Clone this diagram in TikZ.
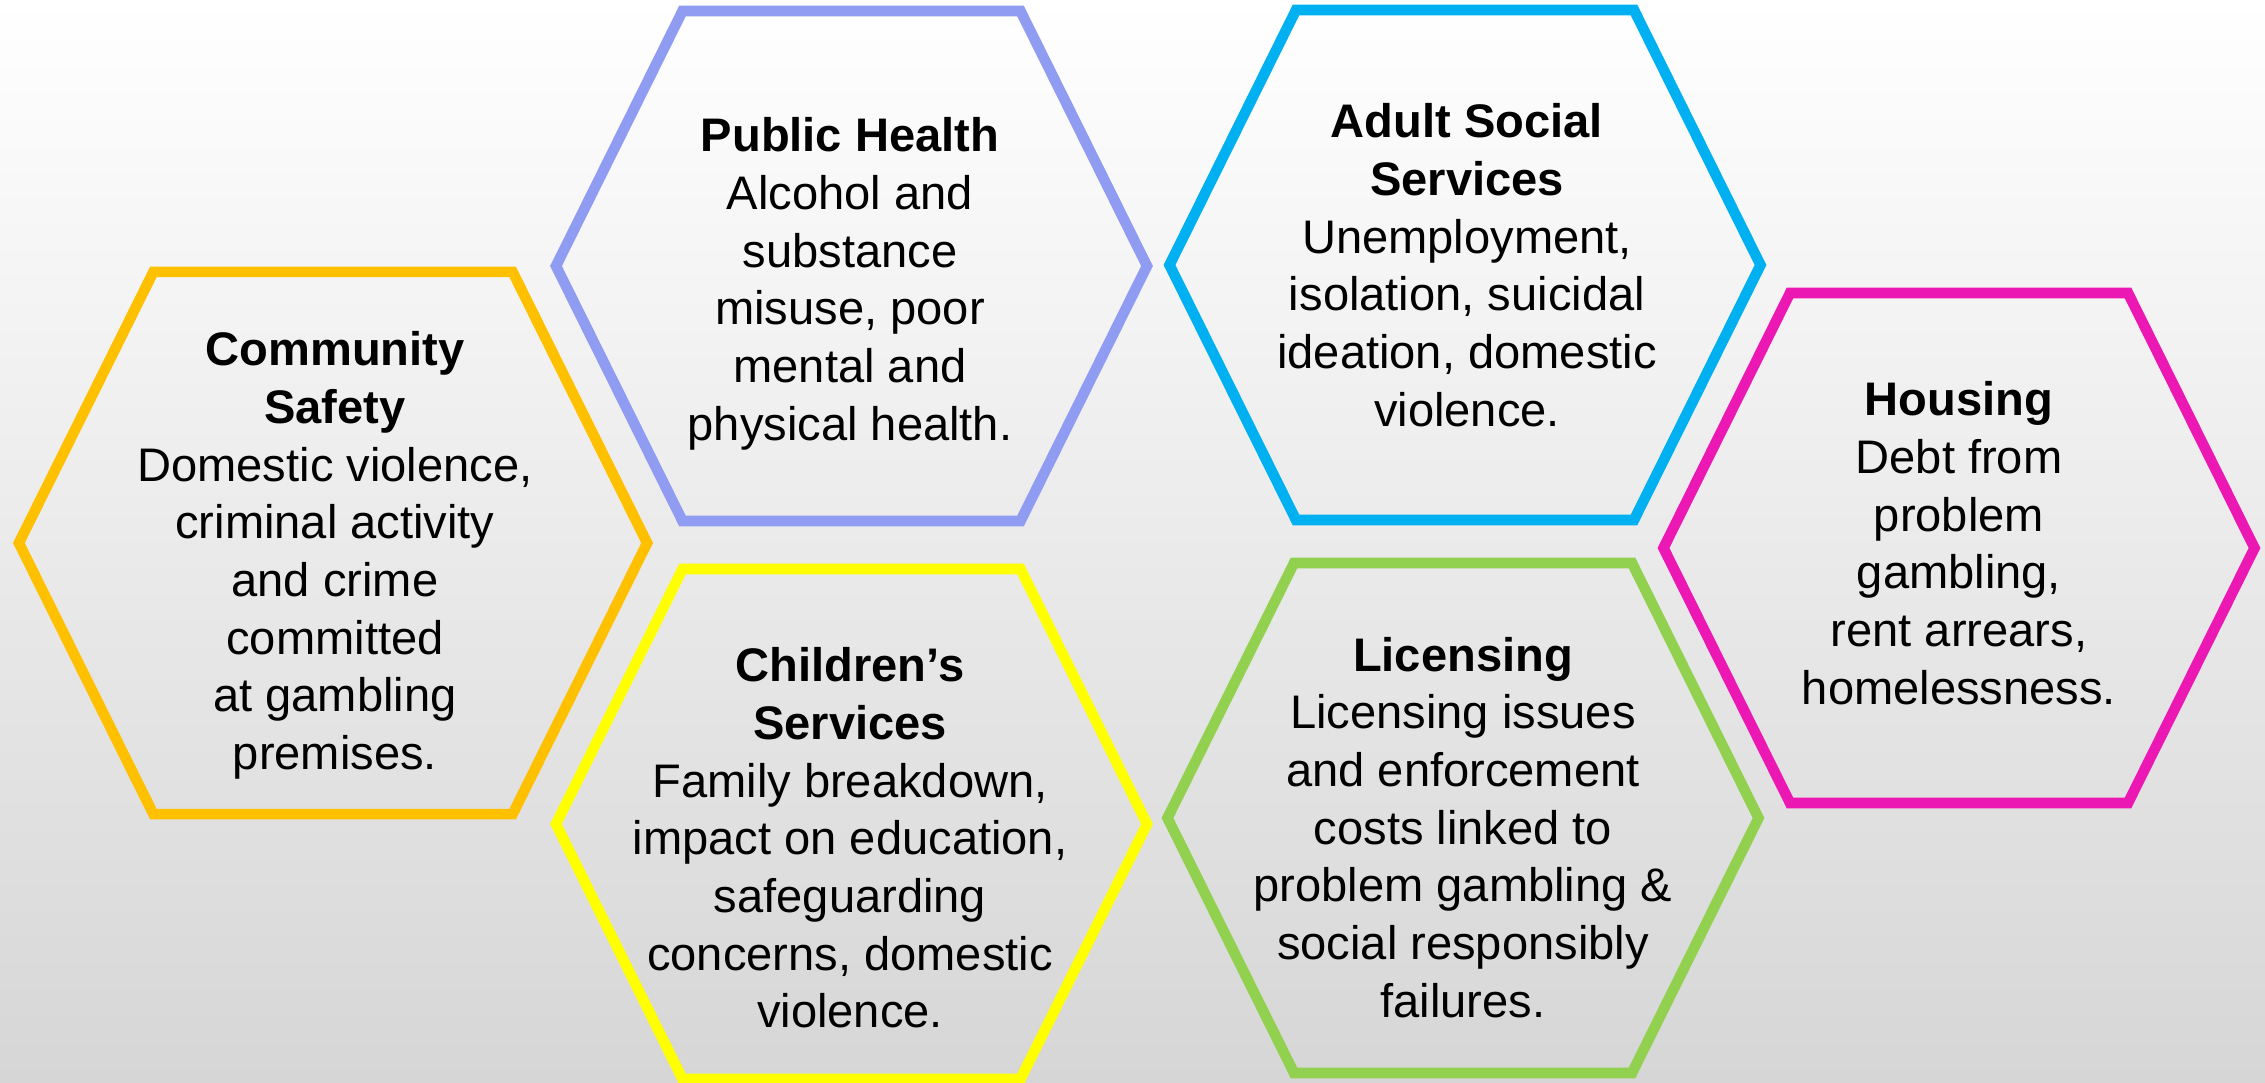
\documentclass[tikz,border=0pt]{standalone}
\usepackage{fontspec}
\setmainfont{Liberation Sans}
\usepackage{tikz}
\definecolor{cellorange}{HTML}{FFC000}
\definecolor{celllilac}{HTML}{8F9CF2}
\definecolor{cellyellow}{HTML}{FFFF00}
\definecolor{cellcyan}{HTML}{00B0F0}
\definecolor{cellgreen}{HTML}{92D050}
\definecolor{cellpink}{HTML}{EC18B4}
\definecolor{bgmid}{HTML}{F4F4F4}
\definecolor{bgbot}{HTML}{D6D6D6}
\tikzset{
    hexcell/.style={line width=3pt, line join=miter},
    celltext/.style={anchor=north, inner sep=0pt, align=center, font=\fontsize{13.4}{16.4}\selectfont},
    pics/hexa/.style={code={\draw[hexcell, draw=#1] (-2.955,0) -- (-1.69,2.55) -- (1.69,2.55) -- (2.955,0) -- (1.69,-2.55) -- (-1.69,-2.55) -- cycle;}}
}

\begin{document}
\begin{tikzpicture}
        \shade[top color=white, middle color=bgmid, bottom color=bgbot] (0,0) rectangle (22.65,-10.82);
        \useasboundingbox (0,0) rectangle (22.65,-10.82);

        % left cell, a bit larger
        \pic[scale=1.063] at (3.33,-5.43) {hexa=cellorange};
        \node[celltext] at (3.35,-3.31) (CommunitySafety) {\textbf{Community}\\\textbf{Safety}\\Domestic violence,\\criminal activity\\and crime\\committed\\at gambling\\premises.};

        % middle column
        \pic at (8.515,-2.66) {hexa=celllilac};
        \node[celltext] at (8.50,-1.17) (PublicHealth) {\textbf{Public Health}\\Alcohol and\\substance\\misuse, poor\\mental and\\physical health.};

        \pic at (8.515,-8.24) {hexa=cellyellow};
        \node[celltext] at (8.50,-6.47) (ChildrensServices) {\textbf{Children’s}\\\textbf{Services}\\Family breakdown,\\impact on education,\\safeguarding\\concerns, domestic\\violence.};

        % right column
        \pic at (14.65,-2.65) {hexa=cellcyan};
        \node[celltext] at (14.67,-1.03) (AdultSocial) {\textbf{Adult Social}\\\textbf{Services}\\Unemployment,\\isolation, suicidal\\ideation, domestic\\violence.};

        \pic at (14.63,-8.18) {hexa=cellgreen};
        \node[celltext] at (14.63,-6.365) (Licensing) {\textbf{Licensing}\\Licensing issues\\and enforcement\\costs linked to\\problem gambling \&\\social responsibly\\failures.};

        \pic at (19.59,-5.48) {hexa=cellpink};
        \node[celltext] at (19.59,-3.81) (Housing) {\textbf{Housing}\\Debt from\\problem\\gambling,\\rent arrears,\\homelessness.};
    \end{tikzpicture}
\end{document}
